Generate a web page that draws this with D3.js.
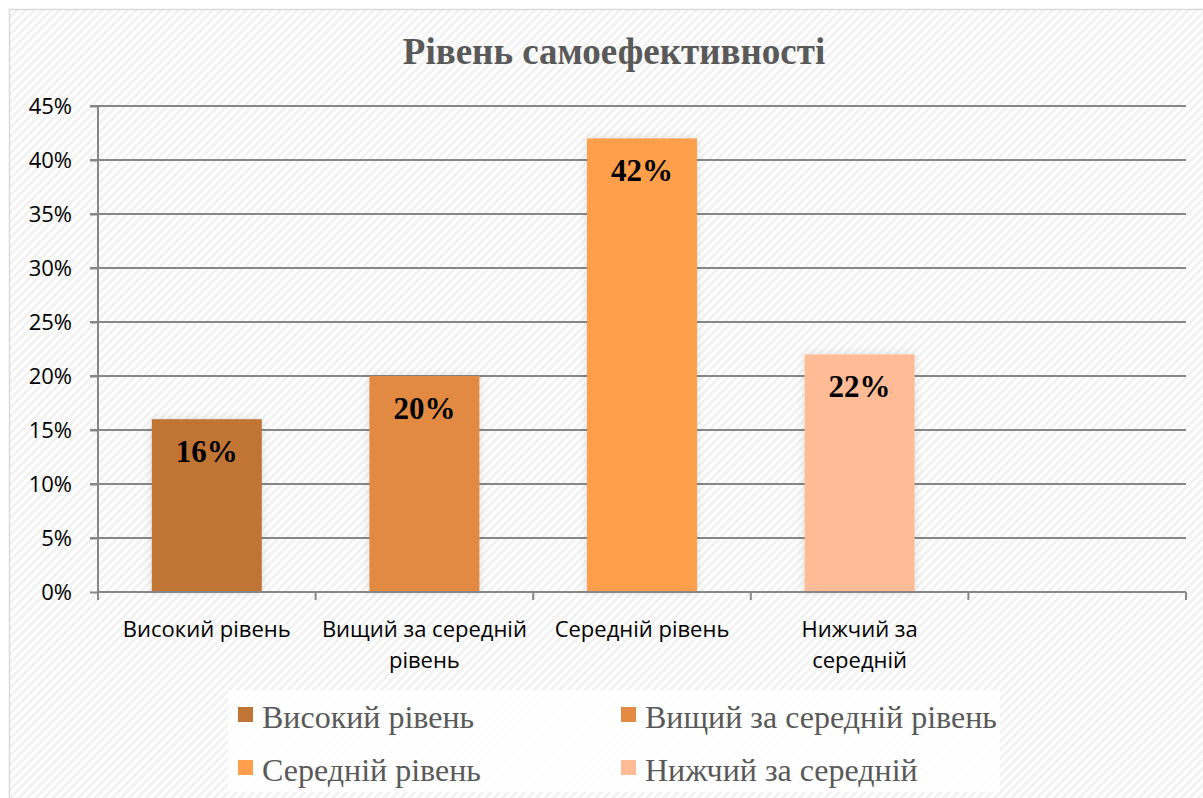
<!DOCTYPE html>
<html><head><meta charset="utf-8">
<script src="https://cdn.jsdelivr.net/npm/d3@7"></script>
<style>html,body{margin:0;padding:0;background:#fff;}svg{display:block;}</style>
</head><body>
<svg id="c" width="1203" height="798"></svg>
<script>
const categories = ["Високий рівень", "Вищий за середній рівень", "Середній рівень", "Нижчий за середній"];
const values = [0.16, 0.20, 0.42, 0.22];
const colors = ["#C07436", "#E38A43", "#FF9E4B", "#FFBB96"];
const axisLabels = [["Високий рівень"], ["Вищий за середній", "рівень"], ["Середній рівень"], ["Нижчий за", "середній"]];
const yTicks = [0, 0.05, 0.10, 0.15, 0.20, 0.25, 0.30, 0.35, 0.40, 0.45];
const title = "Рівень самоефективності";

(function(){
const svg = d3.select("#c");
const defs = svg.append("defs");
const pat = defs.append("pattern").attr("id","stripes").attr("patternUnits","userSpaceOnUse")
  .attr("width",6).attr("height",6).attr("patternTransform","rotate(45)");
pat.append("rect").attr("width",6).attr("height",6).attr("fill","#ffffff");
pat.append("rect").attr("width",3).attr("height",6).attr("fill","#f2f2f2");
const f = defs.append("filter").attr("id","sh").attr("x","-20%").attr("y","-20%").attr("width","140%").attr("height","140%");
f.append("feDropShadow").attr("dx",0).attr("dy",0).attr("stdDeviation",4).attr("flood-color","#000").attr("flood-opacity",0.12);

svg.append("rect").attr("x",0).attr("y",0).attr("width",1203).attr("height",798).attr("fill","#fff");
svg.append("rect").attr("x",9.5).attr("y",9.5).attr("width",1210).attr("height",800)
  .attr("fill","url(#stripes)").attr("stroke","#d9d9d9").attr("stroke-width",1.5);

const pL = 98, pR = 1186, pT = 106, pB = 592;
const x = d3.scaleBand().domain([...categories, ""]).range([pL, pR]).paddingInner(0).paddingOuter(0);
const y = d3.scaleLinear().domain([0, 0.45]).range([pB, pT]);

// gridlines
svg.append("g").selectAll("line").data(yTicks.filter(d=>d>0)).join("line")
  .attr("x1", pL-8).attr("x2", pR).attr("y1", d=>y(d)).attr("y2", d=>y(d))
  .attr("stroke","#878787").attr("stroke-width",2);

// y axis
const yAxis = svg.append("g").attr("transform",`translate(${pL},0)`)
  .call(d3.axisLeft(y).tickValues(yTicks).tickFormat(d3.format(".0%")).tickSize(8).tickPadding(18));
yAxis.select(".domain").attr("stroke","#878787").attr("stroke-width",2).attr("d",`M0,${pT}V${pB}`);
yAxis.selectAll(".tick line").attr("stroke","#878787").attr("stroke-width",2);
yAxis.selectAll(".tick text").attr("font-family","'Open Sans', sans-serif").attr("font-size",22).attr("fill","#000");

// bars
const bw = 110;
svg.append("g").selectAll("rect").data(values).join("rect")
  .attr("x",(d,i)=>x(categories[i]) + x.bandwidth()/2 - bw/2)
  .attr("width",bw)
  .attr("y",d=>y(d)).attr("height",d=>pB-y(d))
  .attr("fill",(d,i)=>colors[i]).attr("filter","url(#sh)");

// x axis
svg.append("line").attr("x1",pL).attr("x2",pR).attr("y1",pB).attr("y2",pB).attr("stroke","#878787").attr("stroke-width",2);
const tickXs = [...categories, ""].map(c=>x(c)).concat([pR]);
svg.append("g").selectAll("line").data(tickXs).join("line")
  .attr("x1",d=>d).attr("x2",d=>d).attr("y1",pB).attr("y2",pB+8).attr("stroke","#878787").attr("stroke-width",2);

// data labels
svg.append("g").selectAll("text").data(values).join("text")
  .attr("x",(d,i)=>x(categories[i]) + x.bandwidth()/2)
  .attr("y",d=>y(d)+43)
  .attr("text-anchor","middle").attr("font-family","'Liberation Serif', 'Times New Roman', serif")
  .attr("font-weight","bold").attr("font-size",31).attr("fill","#000")
  .text(d=>d3.format(".0%")(d));

// category labels
const cl = svg.append("g");
categories.forEach((c,i)=>{
  const t = cl.append("text").attr("x", x(c)+x.bandwidth()/2).attr("y",637)
    .attr("text-anchor","middle").attr("font-family","'Open Sans', sans-serif").attr("font-size",22).attr("fill","#000");
  axisLabels[i].forEach((ln,j)=>t.append("tspan").attr("x",x(c)+x.bandwidth()/2).attr("dy", j===0?0:31).text(ln));
});

// title
svg.append("text").attr("x",614).attr("y",64).attr("text-anchor","middle")
  .attr("font-family","'Liberation Serif', 'Times New Roman', serif").attr("font-weight","bold")
  .attr("font-size",37).attr("fill","#595959").text(title);

// legend
svg.append("rect").attr("x",228).attr("y",690).attr("width",772).attr("height",102).attr("fill","#ffffff").attr("opacity",0.85);
const legPos = [[238,718],[621,718],[238,771],[621,771]];
const lg = svg.append("g");
categories.forEach((c,i)=>{
  const [lx,ly] = legPos[i];
  lg.append("rect").attr("x",lx).attr("y",ly-11).attr("width",15).attr("height",15).attr("fill",colors[i]);
  lg.append("text").attr("x",lx+24).attr("y",ly+10).attr("font-family","'Liberation Serif', 'Times New Roman', serif")
    .attr("font-size",32).attr("fill","#595959").text(c);
});
})();
</script>
</body></html>
